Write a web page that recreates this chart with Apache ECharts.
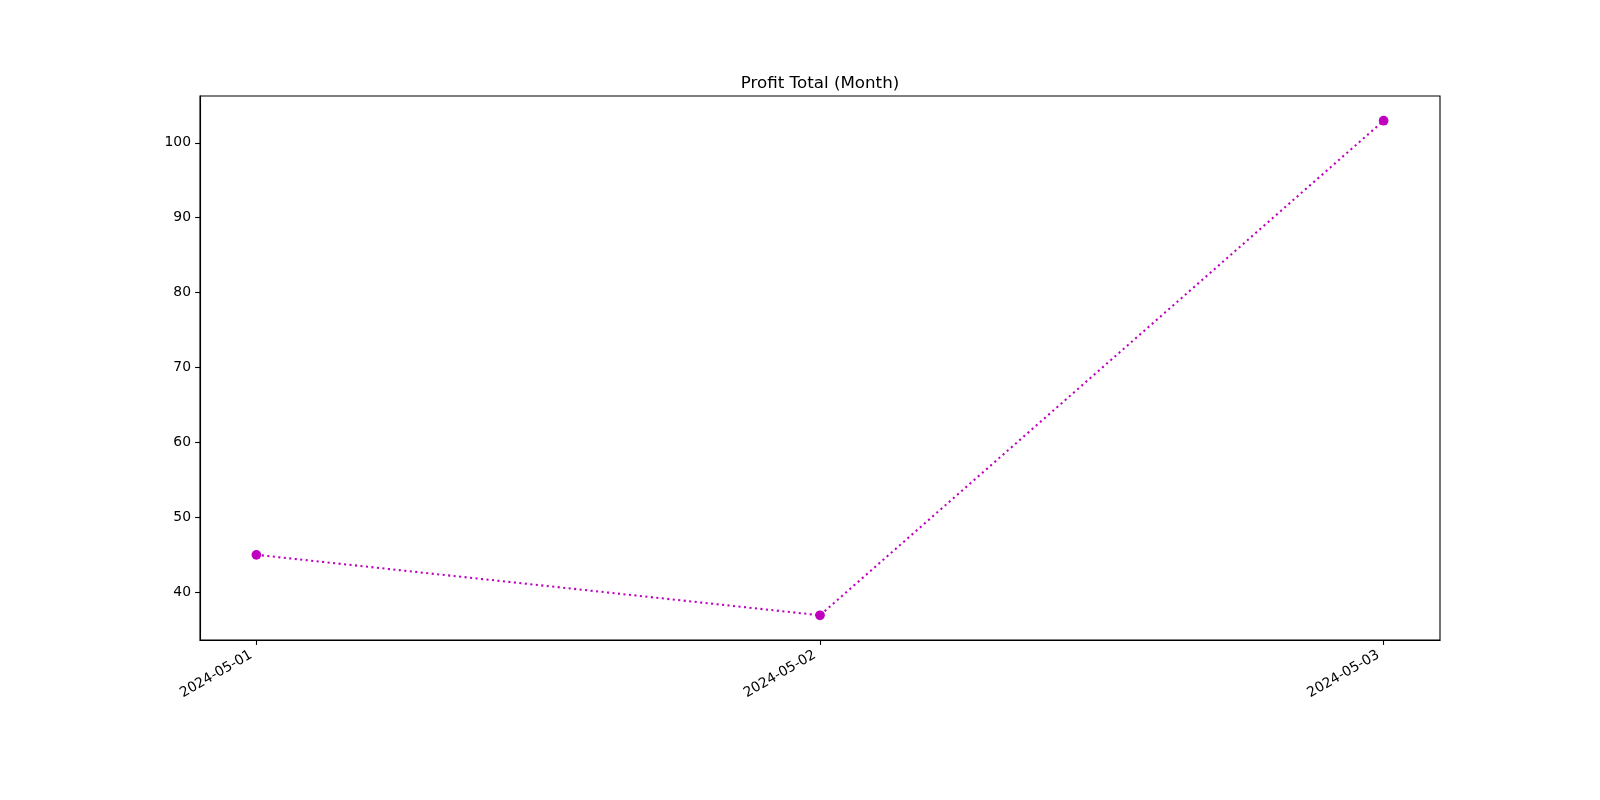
<!DOCTYPE html>
<html>
<head>
<meta charset="utf-8">
<script src="https://cdn.jsdelivr.net/npm/echarts@6/dist/echarts.min.js"></script>
<style>
  html, body { margin: 0; padding: 0; background: #fff; }
  #main { width: 1600px; height: 800px; }
</style>
</head>
<body>
<div id="main"></div>
<script>
var dates = ['2024-05-01', '2024-05-02', '2024-05-03'];
var profit = [45, 36.93, 102.94];
var yTicks = [40, 50, 60, 70, 80, 90, 100];

var xTicks = dates.map(function (d, i) { return i; });
var points = profit.map(function (v, i) { return [i, v]; });

var font = 'DejaVu Sans';

var option = {
  animation: false,
  backgroundColor: '#fff',
  title: {
    text: 'Profit Total (Month)',
    left: 815,
    textAlign: 'center',
    top: 70,
    textStyle: {
      fontFamily: font,
      fontSize: 16.7,
      fontWeight: 'normal',
      color: '#000'
    }
  },
  grid: {
    left: 200,
    right: 160,
    top: 96,
    bottom: 160,
    show: true,
    borderColor: '#000',
    borderWidth: 1.1,
    backgroundColor: 'transparent'
  },
  xAxis: {
    type: 'value',
    min: -0.1,
    max: 2.1,
    splitLine: { show: false },
    axisLine: { show: true, onZero: false, lineStyle: { color: '#000', width: 1.1 } },
    axisTick: {
      show: true,
      customValues: xTicks,
      length: 4.9,
      lineStyle: { color: '#000', width: 1.1 }
    },
    axisLabel: {
      customValues: xTicks,
      rotate: 30,
      margin: 11,
      padding: [0, 6, 0, 0],
      fontFamily: font,
      fontSize: 13.9,
      color: '#000',
      formatter: function (v) { return dates[Math.round(v)]; }
    }
  },
  yAxis: {
    type: 'value',
    min: 33.63,
    max: 106.24,
    splitLine: { show: false },
    axisLine: { show: true, onZero: false, lineStyle: { color: '#000', width: 1.1 } },
    axisTick: {
      show: true,
      customValues: yTicks,
      length: 4.9,
      lineStyle: { color: '#000', width: 1.1 }
    },
    axisLabel: {
      customValues: yTicks,
      margin: 9,
      fontFamily: font,
      fontSize: 13.9,
      color: '#000'
    }
  },
  series: [{
    type: 'line',
    data: points,
    symbol: 'circle',
    symbolSize: 9.7,
    itemStyle: { color: '#bf00bf' },
    lineStyle: { color: '#bf00bf', width: 2.08, type: [2.08, 3.43] }
  }]
};

var myChart = echarts.init(document.getElementById('main'));
myChart.setOption(option);
</script>
</body>
</html>
